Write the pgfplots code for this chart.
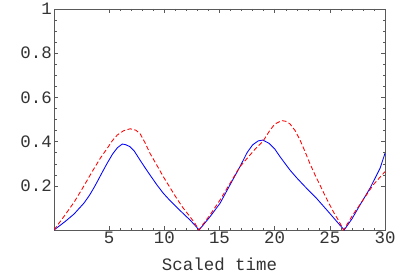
\documentclass[border=0pt]{standalone}
\usepackage{pgfplots}
\pgfplotsset{compat=1.18}
\usepackage{fontspec}
\setmainfont{Liberation Mono}
\begin{document}
\begin{tikzpicture}
\begin{axis}[
  at={(0,0)}, anchor=south west,
  width=331bp, height=221bp, scale only axis,
  xmin=0, xmax=30, ymin=0, ymax=1,
  xtick={5,10,15,20,25,30},
  ytick={0.2,0.4,0.6,0.8,1},
  yticklabels={0.2,0.4,0.6,0.8,1},
  minor x tick num=4, minor y tick num=3,
  tick align=inside,
  major tick length=4bp, minor tick length=2.5bp,
  axis line style={draw=gray!70!black},
  every tick/.style={gray!70!black},
  /pgf/number format/assume math mode=true,
  tick label style={font=\fontsize{17.5}{19}\selectfont, text=black!80, inner sep=2bp},
  xlabel={Scaled time},
  xlabel style={font=\fontsize{17.5}{19}\selectfont, text=black!80, inner sep=0pt, anchor=base, at={(axis description cs:0.5,0)}, yshift=-40bp},
  clip=true,
]
\addplot[blue, line width=0.85pt] coordinates {
(0,0) (1.0,0.038) (1.81,0.072) (2.72,0.122) (3.2,0.156) (3.63,0.192) (4.0,0.226) (4.38,0.262) (4.83,0.303) (5.3,0.343) (5.74,0.372) (6.19,0.389) (6.5,0.386) (6.89,0.377) (7.25,0.359) (7.79,0.317) (8.25,0.282) (8.70,0.249) (9.3,0.206) (9.91,0.166) (10.5,0.134) (11.12,0.103) (11.7,0.075) (12.33,0.045) (12.8,0.02) (13.15,0)
(14.14,0.06) (15.05,0.121) (15.95,0.204) (16.86,0.287) (17.5,0.35) (18.0,0.385) (18.5,0.403) (18.92,0.407) (19.5,0.392) (20.03,0.365) (20.48,0.332) (21.39,0.271) (22.0,0.236) (22.6,0.204) (23.2,0.173) (23.8,0.143) (24.4,0.109) (25.0,0.075) (25.6,0.04) (26.3,0)
(27.0,0.05) (27.73,0.113) (28.64,0.189) (29.55,0.279) (30,0.347)
};
\addplot[red, line width=0.85pt, dash pattern=on 4.5bp off 2.5bp] coordinates {
(0,0) (1.0,0.068) (1.81,0.125) (2.6,0.19) (3.47,0.265) (4.2,0.325) (4.83,0.37) (5.3,0.405) (5.74,0.43) (6.3,0.449) (6.9,0.458) (7.4,0.452) (7.79,0.437) (8.25,0.395) (8.70,0.347) (9.3,0.295) (9.91,0.241) (10.5,0.193) (11.12,0.143) (11.7,0.1) (12.33,0.06) (12.8,0.028) (13.12,0)
(14.14,0.068) (15.05,0.136) (15.95,0.211) (16.86,0.287) (17.76,0.339) (18.3,0.37) (18.92,0.40) (19.58,0.452) (20.03,0.48) (20.64,0.495) (21.0,0.492) (21.39,0.48) (21.85,0.45) (22.3,0.407) (22.75,0.355) (23.2,0.30) (23.65,0.25) (24.1,0.204) (24.55,0.157) (25.0,0.113) (25.4,0.075) (25.77,0.045) (26.25,0)
(27.1,0.07) (27.8,0.12) (28.94,0.205) (30,0.264)
};
\end{axis}
\pgfresetboundingbox
\path (-54bp,-47bp) rectangle (360bp,230bp);
\end{tikzpicture}
\end{document}
